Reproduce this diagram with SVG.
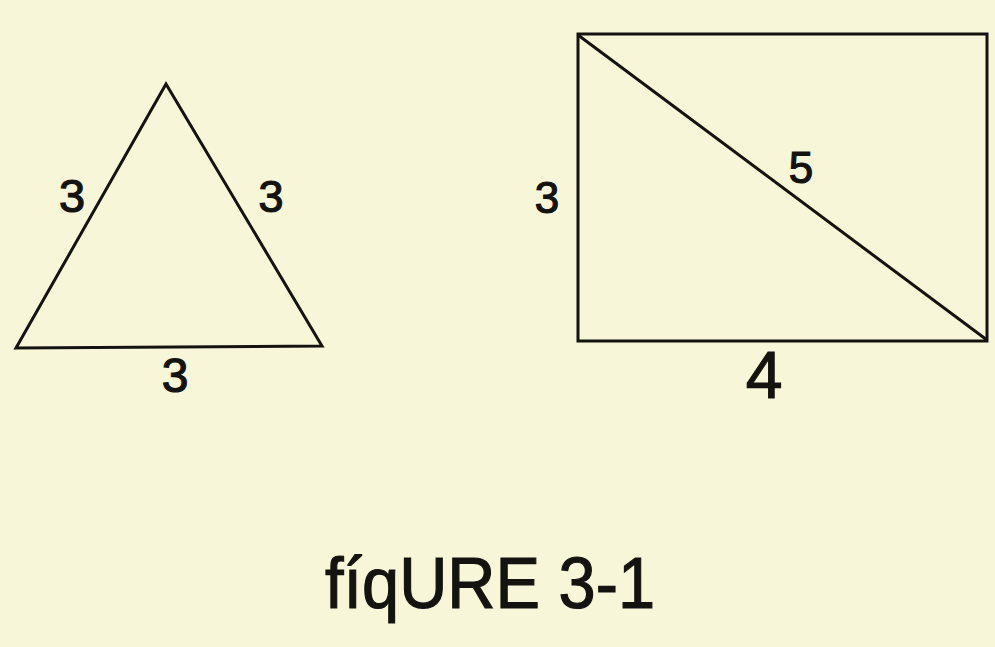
<svg xmlns="http://www.w3.org/2000/svg" width="995" height="647" viewBox="0 0 995 647">
<style>
.ln{fill:none;stroke:#141310;stroke-width:3;stroke-linejoin:miter}
.lb{font-family:"Liberation Sans","DejaVu Sans",sans-serif;fill:#141310;stroke:#141310;stroke-width:1.2;text-anchor:middle}
</style>
<rect width="995" height="647" fill="#f7f6d9"/>
<g id="triangle">
<polygon class="ln" points="166,84 16,348 322,346"/>
<text class="lb" x="72" y="212" font-size="47">3</text>
<text class="lb" x="271" y="212" font-size="45">3</text>
<text class="lb" x="175" y="392" font-size="48">3</text>
</g>
<g id="rectangle">
<rect class="ln" x="578" y="34" width="409" height="307"/>
<line class="ln" x1="578" y1="35" x2="987" y2="340" stroke-width="2.5"/>
<text class="lb" x="801" y="183" font-size="44">5</text>
<text class="lb" x="547" y="213" font-size="44">3</text>
<text class="lb" x="764" y="398" font-size="66">4</text>
</g>
<g id="caption">
<text class="lb" x="490" y="608" font-size="72" stroke-width="2" textLength="330" lengthAdjust="spacingAndGlyphs">fíqURE 3-1</text>
</g>
</svg>
